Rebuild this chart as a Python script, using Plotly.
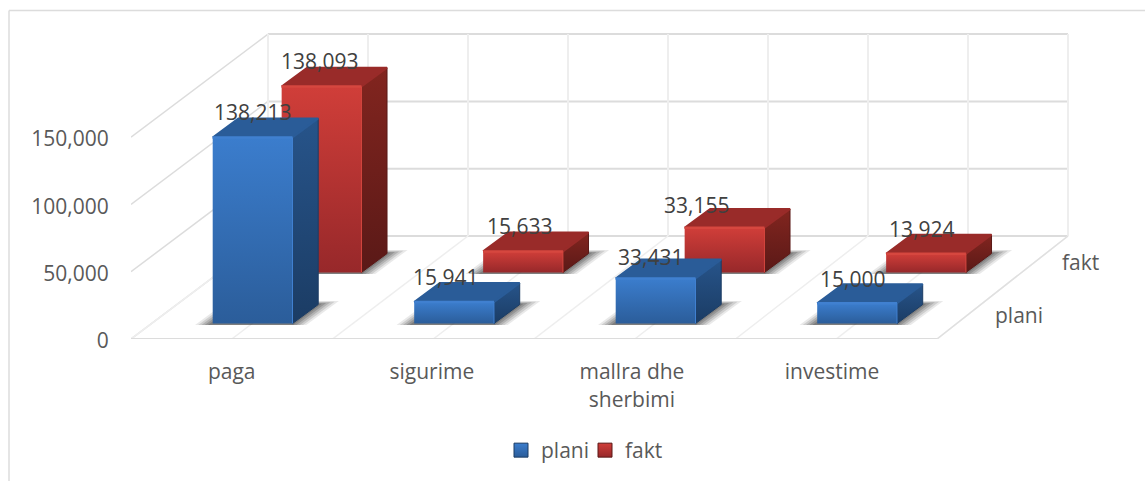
import plotly.graph_objects as go

categories = ["paga", "sigurime", "mallra dhe<br>sherbimi", "investime"]
plani = [138213, 15941, 33431, 15000]
fakt = [138093, 15633, 33155, 13924]
value_ticks = [0, 50000, 100000, 150000]

# projection of the oblique 3-D box onto the 2-D axes (x in category units, y in value units)
PX_PER_CAT = 201.5
PX_PER_VAL = 67.3 / 50000
BAR_DEPTH_X = 139.0 / PX_PER_CAT
DEPTH_Y = 103.0 / PX_PER_VAL
BAR_HALF = 0.198
WALL_TOP = 150000
LEFT, RIGHT = -0.5, 3.5
W, H = 1145, 481
L, B0 = 131, 339
FONT = "Open Sans"
FS = 21


def P(c, d, v):
    return c + d * BAR_DEPTH_X, v + d * DEPTH_Y


def PW(c, d, v):
    # the box walls narrow slightly towards the back
    dx = (137 - 6 * (c - LEFT) / (RIGHT - LEFT)) / PX_PER_CAT
    return c + d * dx, v + d * DEPTH_Y


def poly(points, **kw):
    pts = [P(*p) for p in points]
    pts.append(pts[0])
    return go.Scatter(x=[p[0] for p in pts], y=[p[1] for p in pts], mode="lines",
                      fill="toself", showlegend=False, hoverinfo="skip", **kw)


def seg(a, b, color, width, proj=PW):
    pa, pb = proj(*a), proj(*b)
    return go.Scatter(x=[pa[0], pb[0]], y=[pa[1], pb[1]], mode="lines", showlegend=False,
                      hoverinfo="skip", line=dict(color=color, width=width))


fig = go.Figure()

# walls and floor
for v in value_ticks:
    fig.add_trace(seg((LEFT, 0, v), (LEFT, 1, v), "#dcdcdc", 1.5))
    fig.add_trace(seg((LEFT, 1, v), (RIGHT, 1, v), "#dcdcdc", 2))
for k in range(9):
    c = LEFT + k * 0.5
    fig.add_trace(seg((c, 1, 0), (c, 1, WALL_TOP), "#eeeeee", 2))
    fig.add_trace(seg((c, 0, 0), (c, 1, 0), "#eeeeee", 1.5))
fig.add_trace(seg((LEFT, 0, 0), (RIGHT, 0, 0), "#dcdcdc", 2))
fig.add_trace(seg((RIGHT, 0, 0), (RIGHT, 1, 0), "#e0e0e0", 1.5))

BLUE = dict(front=("#3b7dcd", "#2b5d9a"), top="#2a5c98", side=("#27548a", "#1b3c64"), edge="#4080d0")
RED = dict(front=("#d03e39", "#97282a"), top="#992b29", side=("#82251f", "#5a1917"), edge="#d6473f")


def grad(colors):
    # first colour at the top of the face
    return dict(type="vertical", colorscale=[[0, colors[1]], [1, colors[0]]])


def bar(i, value, d0, d1, st):
    a, b = i - BAR_HALF, i + BAR_HALF
    # soft floor shadow: the base footprint widened sideways, in fading layers
    for e, op in ((0.078, 0.10), (0.062, 0.14), (0.046, 0.17), (0.03, 0.20), (0.014, 0.22)):
        k = e / 0.078
        fig.add_trace(poly([(a - e, d0 - 0.014, 0), (b + e, d0 - 0.014, 0),
                            (b + e, d1 + 0.035 * k, 0), (a - e, d1 + 0.035 * k, 0)],
                           line=dict(width=0), fillcolor=f"rgba(40,40,40,{op})"))
    fig.add_trace(poly([(b, d0, 0), (b, d1, 0), (b, d1, value), (b, d0, value)],
                       line=dict(width=1, color=st["side"][1]), fillgradient=grad(st["side"])))
    fig.add_trace(poly([(a, d0, value), (b, d0, value), (b, d1, value), (a, d1, value)],
                       line=dict(width=2, color=st["top"]), fillcolor=st["top"]))
    fig.add_trace(poly([(a, d0, 0), (b, d0, 0), (b, d0, value), (a, d0, value)],
                       line=dict(width=0), fillgradient=grad(st["front"])))
    fig.add_trace(seg((a, d0, value), (b, d0, value), st["edge"], 2.5, proj=P))
    fig.add_trace(seg((b, d0, 0), (b, d0, value), st["edge"], 1, proj=P))


for i, v in enumerate(fakt):
    bar(i, v, 0.646, 0.83, RED)
for i, v in enumerate(plani):
    bar(i, v, 0.15, 0.335, BLUE)

# legend entries
for name, st, lg in (("plani", BLUE, "legend"), ("fakt", RED, "legend2")):
    fig.add_trace(go.Scatter(x=[None], y=[None], mode="markers", name=name, showlegend=True, legend=lg,
                             marker=dict(symbol="square", size=14, color=st["front"][0],
                                         gradient=dict(type="vertical", color=st["front"][1]),
                                         line=dict(width=1, color=st["side"][1]))))

# label nudges in pixels (horizontal, up)
plani_nudge = [(0, 26), (-9, 25), (-5, 22), (-5, 24)]
fakt_nudge = [(-2, 26), (-4, 25), (-28, 23), (-5, 25)]
ann = []
for vals, d0, nudges in ((plani, 0.15, plani_nudge), (fakt, 0.646, fakt_nudge)):
    for i, v in enumerate(vals):
        x, y = P(i, d0, v)
        ann.append(dict(x=x, y=y, text=f"{v:,}", showarrow=False, xanchor="center", yanchor="middle",
                        xshift=nudges[i][0], yshift=nudges[i][1],
                        font=dict(family=FONT, size=FS, color="#404040")))
for name, d, up, right in (("plani", 0.25, -2, 23), ("fakt", 0.75, 0, 25)):
    x, y = PW(RIGHT, d, 0)
    ann.append(dict(x=x, y=y, text=name, showarrow=False, xanchor="left", yanchor="middle",
                    xshift=right, yshift=up, font=dict(family=FONT, size=FS, color="#595959")))

plot_w = W - L
x0 = LEFT
x1 = x0 + plot_w / PX_PER_CAT
y1 = B0 / PX_PER_VAL
legend_style = dict(orientation="h", xanchor="left", yanchor="top", bgcolor="rgba(0,0,0,0)",
                    font=dict(family=FONT, size=FS, color="#595959"), itemwidth=30)

fig.update_layout(
    width=W, height=H, margin=dict(l=L, r=0, t=0, b=H - B0, autoexpand=False),
    paper_bgcolor="white", plot_bgcolor="rgba(0,0,0,0)",
    font=dict(family=FONT, size=FS, color="#595959"),
    xaxis=dict(range=[x0, x1], showgrid=False, zeroline=False, showline=False,
               tickmode="array", tickvals=[i * 0.993 for i in range(len(categories))],
               ticktext=categories, ticks="outside", ticklen=14, tickcolor="rgba(0,0,0,0)",
               tickfont=dict(family=FONT, size=FS, color="#595959")),
    yaxis=dict(range=[0, y1], showgrid=False, zeroline=False, showline=False,
               tickmode="array", tickvals=value_ticks, tickformat=",d", ticks="outside",
               ticklen=17, tickcolor="rgba(0,0,0,0)", ticklabelshift=2,
               tickfont=dict(family=FONT, size=FS, color="#595959")),
    legend=dict(x=(501 - L) / plot_w, y=(B0 - 430) / B0, **legend_style),
    legend2=dict(x=(585 - L) / plot_w, y=(B0 - 430) / B0, **legend_style),
    annotations=ann,
    shapes=[dict(type="line", xref="paper", yref="paper", x0=(9 - L) / plot_w, x1=(9 - L) / plot_w,
                 y0=(B0 - H) / B0, y1=(B0 - 10.5) / B0, line=dict(color="#dcdcdc", width=1.5)),
            dict(type="line", xref="paper", yref="paper", x0=(9 - L) / plot_w, x1=1,
                 y0=(B0 - 10.5) / B0, y1=(B0 - 10.5) / B0, line=dict(color="#dcdcdc", width=1.5))],
)

fig.write_html("out.html", config=dict(displayModeBar=False),
               post_script="document.body.style.margin='0';")
